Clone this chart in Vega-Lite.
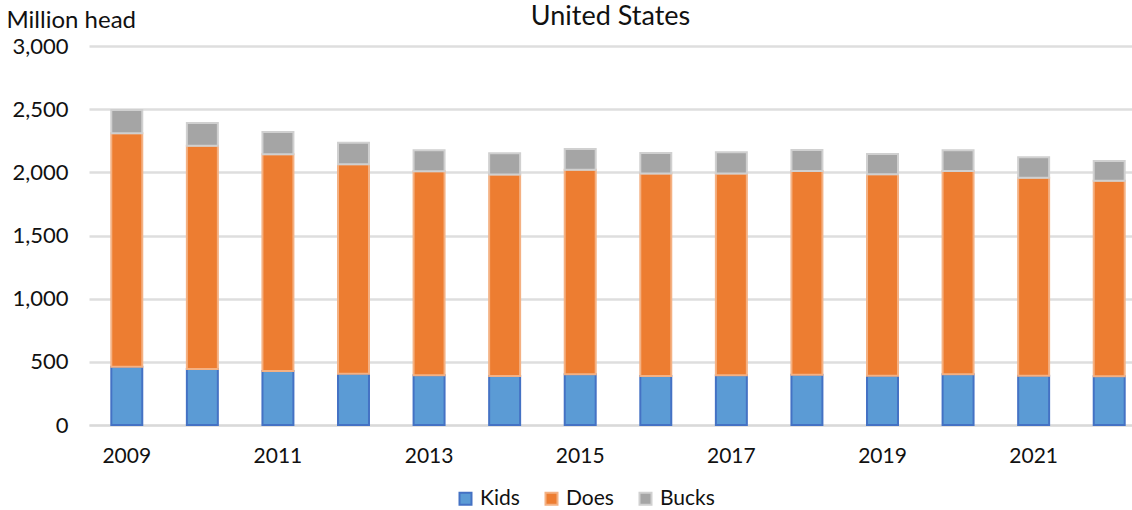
{
  "$schema": "https://vega.github.io/schema/vega-lite/v6.json",
  "autosize": {"type": "none"},
  "padding": {"left": 89, "top": 46, "right": 0, "bottom": 85},
  "width": 1043,
  "height": 379,
  "background": "white",
  "title": {
    "text": "United States",
    "anchor": "middle",
    "baseline": "alphabetic",
    "offset": 0,
    "dy": 44,
    "font": "Lato",
    "fontSize": 27,
    "fontWeight": "normal",
    "color": "#111111"
  },
  "config": {
    "view": {"stroke": null},
    "font": "Lato"
  },
  "data": {
    "values": [
      {"Year": 2009, "Series": "Kids", "Value": 462, "Ord": 1},
      {"Year": 2009, "Series": "Does", "Value": 1847, "Ord": 2},
      {"Year": 2009, "Series": "Bucks", "Value": 185, "Ord": 3},
      {"Year": 2010, "Series": "Kids", "Value": 443, "Ord": 1},
      {"Year": 2010, "Series": "Does", "Value": 1768, "Ord": 2},
      {"Year": 2010, "Series": "Bucks", "Value": 180, "Ord": 3},
      {"Year": 2011, "Series": "Kids", "Value": 427, "Ord": 1},
      {"Year": 2011, "Series": "Does", "Value": 1716, "Ord": 2},
      {"Year": 2011, "Series": "Bucks", "Value": 176, "Ord": 3},
      {"Year": 2012, "Series": "Kids", "Value": 406, "Ord": 1},
      {"Year": 2012, "Series": "Does", "Value": 1658, "Ord": 2},
      {"Year": 2012, "Series": "Bucks", "Value": 171, "Ord": 3},
      {"Year": 2013, "Series": "Kids", "Value": 393, "Ord": 1},
      {"Year": 2013, "Series": "Does", "Value": 1615, "Ord": 2},
      {"Year": 2013, "Series": "Bucks", "Value": 166, "Ord": 3},
      {"Year": 2014, "Series": "Kids", "Value": 388, "Ord": 1},
      {"Year": 2014, "Series": "Does", "Value": 1594, "Ord": 2},
      {"Year": 2014, "Series": "Bucks", "Value": 169, "Ord": 3},
      {"Year": 2015, "Series": "Kids", "Value": 401, "Ord": 1},
      {"Year": 2015, "Series": "Does", "Value": 1620, "Ord": 2},
      {"Year": 2015, "Series": "Bucks", "Value": 164, "Ord": 3},
      {"Year": 2016, "Series": "Kids", "Value": 388, "Ord": 1},
      {"Year": 2016, "Series": "Does", "Value": 1602, "Ord": 2},
      {"Year": 2016, "Series": "Bucks", "Value": 163, "Ord": 3},
      {"Year": 2017, "Series": "Kids", "Value": 393, "Ord": 1},
      {"Year": 2017, "Series": "Does", "Value": 1597, "Ord": 2},
      {"Year": 2017, "Series": "Bucks", "Value": 169, "Ord": 3},
      {"Year": 2018, "Series": "Kids", "Value": 398, "Ord": 1},
      {"Year": 2018, "Series": "Does", "Value": 1613, "Ord": 2},
      {"Year": 2018, "Series": "Bucks", "Value": 166, "Ord": 3},
      {"Year": 2019, "Series": "Kids", "Value": 390, "Ord": 1},
      {"Year": 2019, "Series": "Does", "Value": 1595, "Ord": 2},
      {"Year": 2019, "Series": "Bucks", "Value": 160, "Ord": 3},
      {"Year": 2020, "Series": "Kids", "Value": 401, "Ord": 1},
      {"Year": 2020, "Series": "Does", "Value": 1610, "Ord": 2},
      {"Year": 2020, "Series": "Bucks", "Value": 163, "Ord": 3},
      {"Year": 2021, "Series": "Kids", "Value": 390, "Ord": 1},
      {"Year": 2021, "Series": "Does", "Value": 1568, "Ord": 2},
      {"Year": 2021, "Series": "Bucks", "Value": 161, "Ord": 3},
      {"Year": 2022, "Series": "Kids", "Value": 385, "Ord": 1},
      {"Year": 2022, "Series": "Does", "Value": 1549, "Ord": 2},
      {"Year": 2022, "Series": "Bucks", "Value": 156, "Ord": 3}
    ]
  },
  "mark": {"type": "bar", "strokeWidth": 2},
  "encoding": {
    "x": {
      "field": "Year",
      "type": "ordinal",
      "scale": {"range": [0, 1058], "paddingInner": 0.59, "paddingOuter": 0.295},
      "axis": {
        "title": null,
        "values": [2009, 2011, 2013, 2015, 2017, 2019, 2021],
        "labelAngle": 0,
        "labelFontSize": 21,
        "labelColor": "#111111",
        "labelPadding": 20,
        "ticks": false,
        "domain": true,
        "domainColor": "#d9d9d9",
        "domainWidth": 2
      }
    },
    "y": {
      "field": "Value",
      "type": "quantitative",
      "stack": "zero",
      "scale": {"domain": [0, 3000], "nice": false},
      "axis": {
        "title": "Million head",
        "titleAngle": 0,
        "titleX": -83,
        "titleY": -19,
        "titleAlign": "left",
        "titleBaseline": "alphabetic",
        "titleFontSize": 24,
        "titleFontWeight": "normal",
        "titleColor": "#111111",
        "values": [0, 500, 1000, 1500, 2000, 2500, 3000],
        "format": ",.0f",
        "labelFontSize": 22,
        "labelColor": "#111111",
        "labelPadding": 21,
        "ticks": false,
        "domain": false,
        "gridColor": "#dedede",
        "gridWidth": 2.5
      }
    },
    "order": {"field": "Ord", "type": "quantitative"},
    "color": {
      "field": "Series",
      "type": "nominal",
      "scale": {"domain": ["Kids", "Does", "Bucks"], "range": ["#5b9bd5", "#ed7d31", "#a5a5a5"]},
      "legend": {
        "title": null,
        "orient": "none",
        "direction": "horizontal",
        "legendX": 366,
        "legendY": 442,
        "symbolType": "square",
        "symbolSize": 144,
        "symbolStrokeWidth": 2,
        "labelFontSize": 21,
        "labelColor": "#111111",
        "labelOffset": 4,
        "columnPadding": 21
      }
    },
    "stroke": {
      "field": "Series",
      "type": "nominal",
      "scale": {"domain": ["Kids", "Does", "Bucks"], "range": ["#4472c4", "#f4b183", "#d0d0d0"]},
      "legend": null
    }
  }
}
